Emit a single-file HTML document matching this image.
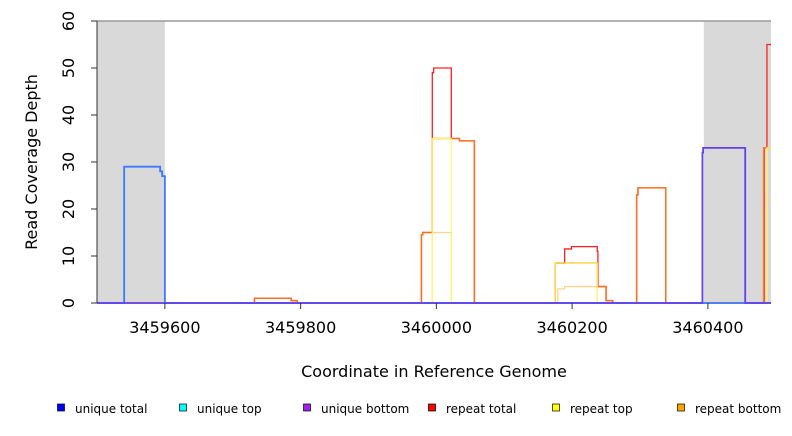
<!DOCTYPE html>
<html><head><meta charset="utf-8"><style>
body{margin:0;background:#fff;width:792px;height:432px;overflow:hidden;font-family:"DejaVu Sans","Liberation Sans",sans-serif}
svg text{font-family:"DejaVu Sans","Liberation Sans",sans-serif}
</style></head><body>
<svg id="chart" width="792" height="432" xmlns="http://www.w3.org/2000/svg"></svg>
<script>
const xTicks=[3459600,3459800,3460000,3460200,3460400];
const yTicks=[0,10,20,30,40,50,60];
const greyRegions=[[3459500,3459600],[3460394,3460493]];
const repeatTotalX=[3459500,3459732,3459786,3459795,3459978,3459980,3459994,3459996,3460022,3460034,3460056,3460175,3460189,3460199,3460237,3460238,3460250,3460260,3460295,3460297,3460338,3460483,3460487,3460493];
const repeatTotalY=[0,1,0.5,0,14.5,15,49,50,35,34.5,0,8.5,11.5,12,11,3.5,0.5,0,23,24.5,0,33,55];
const repeatBottomX=[3459500,3459732,3459786,3459795,3459978,3459980,3459994,3460022,3460034,3460056,3460175,3460237,3460250,3460260,3460295,3460297,3460338,3460482,3460493];
const repeatBottomY=[0,1,0.5,0,14.5,15,35,35,34.5,0,8.5,3.5,0.5,0,23,24.5,0,33];
const repeatTopX=[3459500,3459994,3460022,3460175,3460237,3460482,3460487,3460493];
const repeatTopY=[0,35,0,8.5,0,0,33];
const repeatTop2X=[3459500,3459994,3460022,3460179,3460189,3460237,3460487,3460493];
const repeatTop2Y=[0,15,0,3,3.5,0,22];
const uniqueTotalX=[3459500,3459540,3459593,3459596,3459600,3460493];
const uniqueTotalY=[0,29,28,27,0];
const uniqueBottomX=[3459500,3460392,3460393,3460455,3460493];
const uniqueBottomY=[0,32,33,0];
const legendLabels=["unique total","unique top","unique bottom","repeat total","repeat top","repeat bottom"];
const legendColors=["#0000ff","#00ffff","#a020f0","#ff0000","#ffff00","#ffa500"];

const svg=document.getElementById('chart');
const NS='http://www.w3.org/2000/svg';
const X0=97,X1=771,Y0=303,Y1=21,DMIN=3459500,DMAX=3460493,YMAX=60;
const sx=v=>X0+(v-DMIN)/(DMAX-DMIN)*(X1-X0);
const sy=v=>Y0-v/YMAX*(Y0-Y1);
function mk(tag,attrs,parent){const e=document.createElementNS(NS,tag);for(const k in attrs)e.setAttribute(k,attrs[k]);(parent||svg).appendChild(e);return e;}

greyRegions.forEach((r,i)=>{
  const e=mk('rect',{x:sx(r[0]),y:Y1,width:sx(r[1])-sx(r[0]),height:Y0-Y1,fill:'#d9d9d9'});
  
  
});
const topBorder=mk('line',{x1:X0,x2:X1,y1:Y1,y2:Y1,stroke:'#999','stroke-width':1.5});



function step(xs,ys,color,w,name,op){
  let d='M'+sx(xs[0])+','+sy(ys[0]);
  for(let i=0;i<ys.length;i++){
    d+=' L'+sx(xs[i])+','+sy(ys[i])+' L'+sx(xs[i+1])+','+sy(ys[i]);
  }
  const p=mk('path',{d:d,fill:'none',stroke:color,'stroke-width':w,opacity:op});
  
  
}
step(repeatTotalX,repeatTotalY,'#ff2020',1.3,'series-repeat-total',1);
step(repeatTop2X,repeatTop2Y,'#ffd080',1.3,'series-repeat-top-low',0.9);
step(repeatBottomX,repeatBottomY,'#ff7a20',1.5,'series-repeat-bottom',0.85);
step(repeatTopX,repeatTopY,'#ffff60',1.2,'series-repeat-top',0.9);
step(uniqueTotalX,uniqueTotalY,'#3a7aff',1.8,'series-unique-total',1);
step(uniqueBottomX,uniqueBottomY,'#6040f0',1.8,'series-unique-bottom',1);

const ya=mk('line',{x1:X0,x2:X0,y1:sy(0),y2:sy(60),stroke:'#333'});


yTicks.forEach(v=>{
  const t=mk('line',{x1:X0-6,x2:X0,y1:sy(v),y2:sy(v),stroke:'#333'});
  
  
  const l=mk('text',{x:0,y:0,'font-size':16,'text-anchor':'middle',transform:`translate(${X0-23},${sy(v)}) rotate(-90)`,fill:'#000'});
  l.textContent=v;
  
  
});
xTicks.forEach(v=>{
  const t=mk('line',{x1:sx(v),x2:sx(v),y1:Y0,y2:Y0+6,stroke:'#333'});
  
  
  const l=mk('text',{x:sx(v),y:Y0+30,'font-size':16,'text-anchor':'middle',fill:'#000'});
  l.textContent=v;
  
  
});
const xt=mk('text',{x:434,y:377,'font-size':16,'text-anchor':'middle'});
xt.textContent='Coordinate in Reference Genome';


const yt=mk('text',{x:0,y:0,'font-size':16,'text-anchor':'middle',transform:'translate(37,162) rotate(-90)'});
yt.textContent='Read Coverage Depth';



const lx=[61,183,307,432,556,681];
legendLabels.forEach((lab,i)=>{
  const r=mk('rect',{x:lx[i]-3.5,y:404,width:7,height:7,fill:legendColors[i],stroke:'#000','stroke-width':0.7});
  
  
  const t=mk('text',{x:lx[i]+14,y:413,'font-size':12});
  t.textContent=lab;
  
  
});
</script>
</body></html>
